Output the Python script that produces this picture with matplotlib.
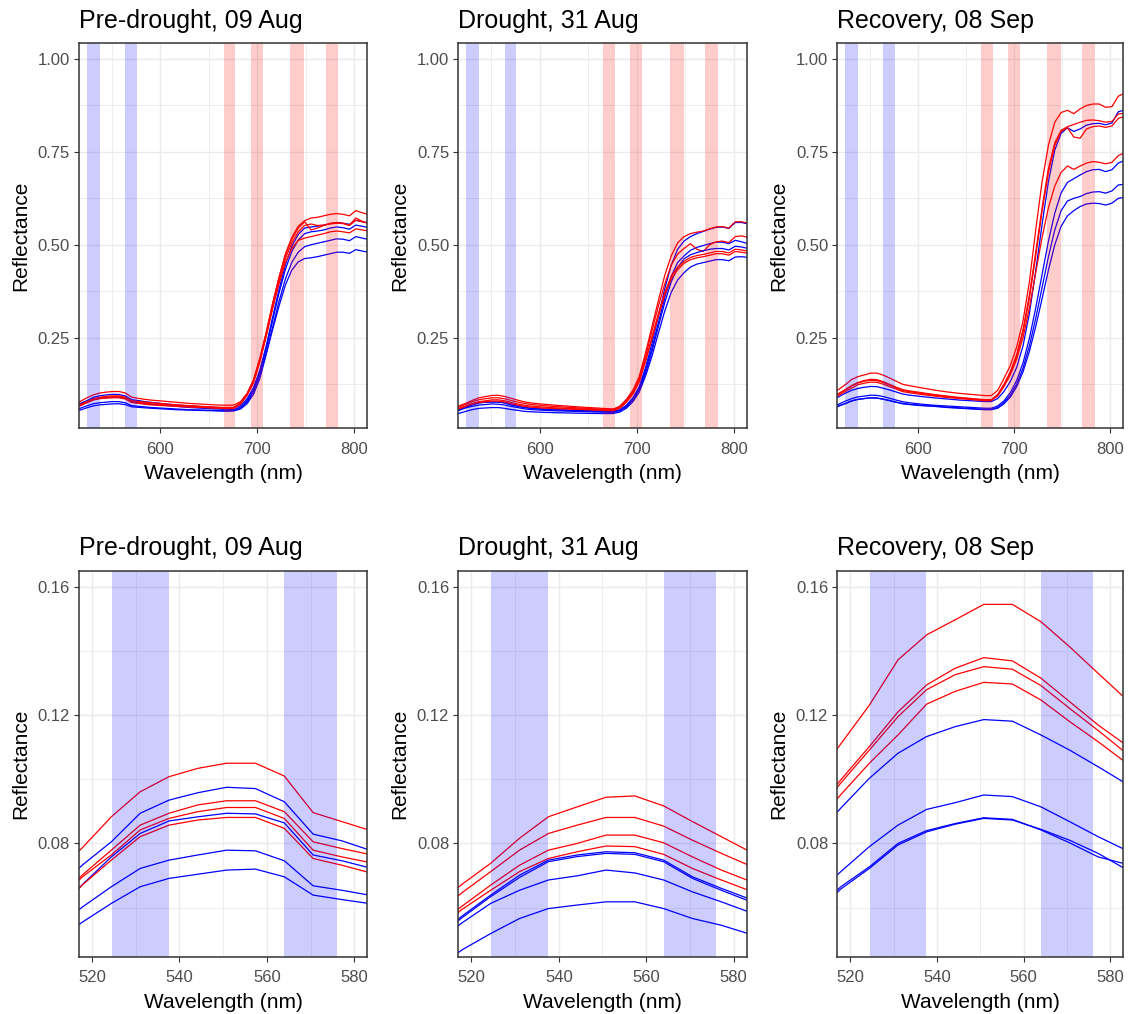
import matplotlib
matplotlib.use("Agg")
import matplotlib.pyplot as plt
from matplotlib.ticker import FixedLocator, FixedFormatter

plt.rcParams['font.family'] = ['Liberation Sans', 'DejaVu Sans']

# ---------------------------------------------------------------- data
wavelength = [511.2, 517.8, 524.4, 531.0, 537.6, 544.2, 550.8, 557.4, 564.0, 570.6,
              577.2, 583.8, 590.4, 603.6, 616.8, 630.0, 643.2, 656.4, 669.6, 676.2,
              682.8, 689.4, 696.0, 702.6, 709.2, 715.8, 722.4, 729.0, 735.6, 742.2,
              748.8, 755.4, 762.0, 768.6, 775.2, 781.8, 788.4, 795.0, 801.6, 808.2,
              814.8]

# Pre-drought, 09 Aug
pre_red = [
    [0.0700, 0.0787, 0.0883, 0.0961, 0.1008, 0.1034, 0.1050, 0.1050, 0.1010, 0.0896, 0.0868, 0.0840, 0.0820,
     0.079, 0.076, 0.073, 0.071, 0.069, 0.068,
     0.069, 0.078, 0.100, 0.136, 0.195, 0.265, 0.343, 0.413, 0.476, 0.520, 0.550, 0.565, 0.572, 0.574,
     0.578, 0.582, 0.584, 0.582, 0.578, 0.592, 0.586, 0.582],
    [0.0620, 0.0702, 0.0779, 0.0857, 0.0894, 0.0920, 0.0933, 0.0933, 0.0899, 0.0805, 0.0784, 0.0765, 0.0750,
     0.072, 0.069, 0.067, 0.065, 0.063, 0.062,
     0.063, 0.075, 0.098, 0.134, 0.192, 0.262, 0.340, 0.410, 0.472, 0.515, 0.545, 0.562, 0.540, 0.545,
     0.552, 0.558, 0.560, 0.558, 0.553, 0.572, 0.563, 0.558],
    [0.0610, 0.0696, 0.0764, 0.0842, 0.0878, 0.0899, 0.0912, 0.0912, 0.0878, 0.0779, 0.0758, 0.0740, 0.0720,
     0.070, 0.068, 0.066, 0.064, 0.062, 0.061,
     0.062, 0.073, 0.095, 0.130, 0.186, 0.254, 0.328, 0.395, 0.452, 0.490, 0.512, 0.518, 0.522, 0.526,
     0.530, 0.535, 0.537, 0.535, 0.532, 0.543, 0.540, 0.537],
    [0.0580, 0.0671, 0.0748, 0.0821, 0.0857, 0.0873, 0.0881, 0.0881, 0.0847, 0.0753, 0.0732, 0.0708, 0.0690,
     0.067, 0.065, 0.063, 0.062, 0.060, 0.059,
     0.060, 0.071, 0.094, 0.128, 0.185, 0.255, 0.332, 0.402, 0.463, 0.505, 0.535, 0.552, 0.556, 0.552,
     0.553, 0.556, 0.558, 0.557, 0.552, 0.566, 0.562, 0.558],
]
pre_blue = [
    [0.0650, 0.0733, 0.0805, 0.0894, 0.0935, 0.0958, 0.0975, 0.0971, 0.0930, 0.0829, 0.0808, 0.0778, 0.0760,
     0.072, 0.069, 0.066, 0.064, 0.062, 0.061,
     0.061, 0.067, 0.085, 0.115, 0.162, 0.228, 0.305, 0.380, 0.446, 0.496, 0.528, 0.545, 0.548, 0.550,
     0.553, 0.557, 0.560, 0.558, 0.555, 0.566, 0.562, 0.558],
    [0.0580, 0.0672, 0.0758, 0.0831, 0.0870, 0.0883, 0.0894, 0.0892, 0.0864, 0.0764, 0.0746, 0.0723, 0.0710,
     0.068, 0.065, 0.062, 0.060, 0.058, 0.057,
     0.057, 0.063, 0.080, 0.110, 0.156, 0.220, 0.296, 0.370, 0.434, 0.482, 0.513, 0.530, 0.535, 0.537,
     0.540, 0.545, 0.548, 0.546, 0.542, 0.553, 0.550, 0.546],
    [0.0530, 0.0602, 0.0665, 0.0722, 0.0748, 0.0764, 0.0779, 0.0777, 0.0746, 0.0668, 0.0654, 0.0638, 0.0620,
     0.060, 0.058, 0.056, 0.055, 0.054, 0.053,
     0.054, 0.060, 0.076, 0.104, 0.148, 0.208, 0.278, 0.348, 0.408, 0.453, 0.480, 0.495, 0.500, 0.504,
     0.508, 0.512, 0.516, 0.515, 0.511, 0.522, 0.518, 0.514],
    [0.0490, 0.0555, 0.0613, 0.0665, 0.0691, 0.0704, 0.0717, 0.0720, 0.0696, 0.0639, 0.0625, 0.0612, 0.0600,
     0.058, 0.056, 0.055, 0.054, 0.053, 0.052,
     0.053, 0.058, 0.072, 0.097, 0.140, 0.205, 0.272, 0.335, 0.392, 0.432, 0.454, 0.463, 0.465, 0.468,
     0.472, 0.476, 0.480, 0.480, 0.477, 0.487, 0.483, 0.480],
]

# Drought, 31 Aug
dro_red = [
    [0.0600, 0.0672, 0.0738, 0.0816, 0.0883, 0.0914, 0.0944, 0.0948, 0.0917, 0.0868, 0.0821, 0.0774, 0.0745,
     0.0710, 0.0680, 0.0655, 0.0630, 0.0610, 0.0590,
     0.058, 0.066, 0.084, 0.108, 0.145, 0.210, 0.280, 0.350, 0.418, 0.470, 0.505, 0.522, 0.530, 0.534,
     0.537, 0.543, 0.548, 0.549, 0.545, 0.562, 0.562, 0.558],
    [0.0570, 0.0646, 0.0712, 0.0779, 0.0831, 0.0857, 0.0881, 0.0881, 0.0854, 0.0810, 0.0769, 0.0730, 0.0705,
     0.0670, 0.0645, 0.0625, 0.0605, 0.0585, 0.0570,
     0.057, 0.064, 0.081, 0.104, 0.140, 0.200, 0.268, 0.335, 0.395, 0.445, 0.475, 0.490, 0.503, 0.488,
     0.482, 0.500, 0.508, 0.510, 0.506, 0.522, 0.524, 0.520],
    [0.0530, 0.0604, 0.0670, 0.0732, 0.0779, 0.0800, 0.0826, 0.0826, 0.0802, 0.0758, 0.0717, 0.0682, 0.0660,
     0.0630, 0.0610, 0.0595, 0.0580, 0.0565, 0.0550,
     0.055, 0.061, 0.077, 0.099, 0.133, 0.190, 0.252, 0.315, 0.372, 0.415, 0.440, 0.455, 0.466, 0.471,
     0.474, 0.478, 0.482, 0.482, 0.478, 0.488, 0.486, 0.483],
    [0.0520, 0.0594, 0.0654, 0.0712, 0.0753, 0.0774, 0.0792, 0.0790, 0.0766, 0.0722, 0.0686, 0.0652, 0.0630,
     0.0605, 0.0590, 0.0578, 0.0565, 0.0550, 0.0540,
     0.054, 0.060, 0.076, 0.098, 0.131, 0.186, 0.247, 0.308, 0.365, 0.408, 0.433, 0.450, 0.460, 0.465,
     0.468, 0.472, 0.476, 0.476, 0.472, 0.482, 0.480, 0.477],
]
dro_blue = [
    [0.0500, 0.0573, 0.0639, 0.0701, 0.0748, 0.0764, 0.0774, 0.0771, 0.0748, 0.0696, 0.0660, 0.0626, 0.0605,
     0.0580, 0.0563, 0.0550, 0.0540, 0.0530, 0.0520,
     0.052, 0.056, 0.068, 0.088, 0.118, 0.170, 0.235, 0.308, 0.382, 0.445, 0.488, 0.510, 0.522, 0.530,
     0.536, 0.542, 0.547, 0.548, 0.544, 0.560, 0.560, 0.556],
    [0.0495, 0.0568, 0.0634, 0.0694, 0.0743, 0.0759, 0.0769, 0.0766, 0.0743, 0.0691, 0.0654, 0.0619, 0.0598,
     0.0572, 0.0555, 0.0542, 0.0532, 0.0522, 0.0512,
     0.051, 0.055, 0.066, 0.085, 0.113, 0.162, 0.222, 0.290, 0.358, 0.415, 0.452, 0.470, 0.485, 0.493,
     0.498, 0.503, 0.507, 0.507, 0.503, 0.512, 0.508, 0.503],
    [0.0480, 0.0552, 0.0613, 0.0654, 0.0686, 0.0699, 0.0717, 0.0708, 0.0686, 0.0649, 0.0618, 0.0585, 0.0565,
     0.0545, 0.0530, 0.0520, 0.0510, 0.0500, 0.0490,
     0.049, 0.053, 0.063, 0.081, 0.108, 0.155, 0.213, 0.280, 0.345, 0.400, 0.438, 0.462, 0.473, 0.479,
     0.484, 0.488, 0.490, 0.490, 0.486, 0.496, 0.494, 0.490],
    [0.0400, 0.0468, 0.0519, 0.0566, 0.0597, 0.0608, 0.0618, 0.0618, 0.0597, 0.0566, 0.0545, 0.0517, 0.0505,
     0.0490, 0.0480, 0.0472, 0.0465, 0.0460, 0.0455,
     0.046, 0.050, 0.060, 0.077, 0.103, 0.147, 0.200, 0.262, 0.322, 0.372, 0.405, 0.425, 0.440, 0.448,
     0.452, 0.456, 0.460, 0.460, 0.457, 0.467, 0.468, 0.466],
]

# Recovery, 08 Sep
rec_red = [
    [0.0990, 0.1110, 0.1231, 0.1372, 0.1450, 0.1497, 0.1545, 0.1545, 0.1491, 0.1413, 0.1330, 0.1248, 0.1210,
     0.1150, 0.1090, 0.1040, 0.1000, 0.0970, 0.0940,
     0.094, 0.108, 0.140, 0.175, 0.225, 0.295, 0.400, 0.540, 0.670, 0.768, 0.830, 0.856, 0.862, 0.853,
     0.866, 0.875, 0.879, 0.879, 0.870, 0.872, 0.900, 0.908],
    [0.0890, 0.0998, 0.1102, 0.1210, 0.1294, 0.1346, 0.1379, 0.1369, 0.1315, 0.1242, 0.1169, 0.1105, 0.1070,
     0.1020, 0.0970, 0.0930, 0.0890, 0.0860, 0.0830,
     0.083, 0.097, 0.125, 0.158, 0.205, 0.272, 0.365, 0.480, 0.600, 0.705, 0.775, 0.808, 0.818, 0.824,
     0.830, 0.835, 0.836, 0.834, 0.830, 0.832, 0.852, 0.854],
    [0.0880, 0.0988, 0.1091, 0.1195, 0.1279, 0.1326, 0.1351, 0.1343, 0.1292, 0.1221, 0.1152, 0.1080, 0.1050,
     0.1000, 0.0950, 0.0910, 0.0880, 0.0850, 0.0820,
     0.082, 0.095, 0.122, 0.155, 0.200, 0.265, 0.355, 0.470, 0.590, 0.695, 0.768, 0.805, 0.815, 0.790,
     0.787, 0.812, 0.818, 0.820, 0.816, 0.820, 0.840, 0.846],
    [0.0850, 0.0952, 0.1050, 0.1138, 0.1234, 0.1274, 0.1302, 0.1297, 0.1247, 0.1180, 0.1117, 0.1050, 0.1020,
     0.0970, 0.0930, 0.0890, 0.0860, 0.0830, 0.0800,
     0.081, 0.093, 0.118, 0.150, 0.192, 0.250, 0.330, 0.425, 0.520, 0.600, 0.658, 0.695, 0.712, 0.703,
     0.712, 0.720, 0.724, 0.722, 0.718, 0.722, 0.740, 0.748],
]
rec_blue = [
    [0.0810, 0.0910, 0.1003, 0.1081, 0.1133, 0.1164, 0.1186, 0.1181, 0.1138, 0.1091, 0.1039, 0.0985, 0.0955,
     0.0915, 0.0880, 0.0850, 0.0820, 0.0800, 0.0780,
     0.078, 0.086, 0.105, 0.132, 0.170, 0.228, 0.315, 0.430, 0.555, 0.670, 0.755, 0.800, 0.815, 0.805,
     0.812, 0.822, 0.826, 0.827, 0.823, 0.828, 0.858, 0.863],
    [0.0630, 0.0712, 0.0790, 0.0857, 0.0906, 0.0927, 0.0951, 0.0946, 0.0914, 0.0868, 0.0821, 0.0778, 0.0750,
     0.0710, 0.0680, 0.0660, 0.0640, 0.0620, 0.0600,
     0.060, 0.066, 0.080, 0.102, 0.135, 0.182, 0.248, 0.330, 0.420, 0.510, 0.585, 0.640, 0.668, 0.678,
     0.688, 0.697, 0.702, 0.703, 0.697, 0.702, 0.720, 0.727],
    [0.0580, 0.0665, 0.0727, 0.0800, 0.0840, 0.0862, 0.0880, 0.0875, 0.0842, 0.0802, 0.0758, 0.0735, 0.0710,
     0.0680, 0.0660, 0.0630, 0.0610, 0.0590, 0.0570,
     0.057, 0.062, 0.075, 0.095, 0.125, 0.168, 0.228, 0.302, 0.385, 0.468, 0.540, 0.592, 0.618, 0.625,
     0.630, 0.638, 0.642, 0.643, 0.639, 0.645, 0.661, 0.663],
    [0.0570, 0.0658, 0.0722, 0.0795, 0.0836, 0.0860, 0.0878, 0.0873, 0.0844, 0.0810, 0.0769, 0.0718, 0.0700,
     0.0670, 0.0650, 0.0620, 0.0600, 0.0580, 0.0560,
     0.056, 0.060, 0.072, 0.090, 0.118, 0.158, 0.213, 0.280, 0.355, 0.432, 0.500, 0.550, 0.578, 0.592,
     0.603, 0.610, 0.612, 0.611, 0.607, 0.612, 0.625, 0.628],
]

titles = ["Pre-drought, 09 Aug", "Drought, 31 Aug", "Recovery, 08 Sep"]
red_sets = [pre_red, dro_red, rec_red]
blue_sets = [pre_blue, dro_blue, rec_blue]

# spectral bands used by the indices
blue_bands = [(524.5, 537.5), (564.0, 576.0)]
red_bands = [(665.5, 677.5), (693.5, 706.0), (734.0, 748.5), (770.5, 783.5)]

# axis settings for the full spectrum (top) and the green-peak zoom (bottom)
top_xlim, top_ylim = (516.2, 813.4), (0.006, 1.044)
top_xticks, top_xminor = [600, 700, 800], [550, 650, 750]
top_yticks, top_yminor = [0.25, 0.50, 0.75, 1.00], [0.125, 0.375, 0.625, 0.875]
top_ylabels = ["0.25", "0.50", "0.75", "1.00"]

bot_xlim, bot_ylim = (517.0, 583.0), (0.0447, 0.165)
bot_xticks, bot_xminor = [520, 540, 560, 580], [530, 550, 570]
bot_yticks, bot_yminor = [0.08, 0.12, 0.16], [0.06, 0.10, 0.14]
bot_ylabels = ["0.08", "0.12", "0.16"]

# ---------------------------------------------------------------- layout (pixels)
W, H = 1128, 1014
fig = plt.figure(figsize=(W / 100, H / 100), dpi=100)

cols = [(79.0, 367.3), (458.3, 746.7), (837.3, 1123.3)]
rows = [(42.7, 428.3), (570.7, 956.7)]
title_base = [28.0, 555.0]
xlab_base = [479.0, 1007.5]

RED, BLUE = "#FF0000", "#0000FF"
GRID = "#EBEBEB"
DARK = "#333333"


def fx(px):
    return px / W


def fy(py):
    return 1 - py / H


for r, (y0, y1) in enumerate(rows):
    for c, (x0, x1) in enumerate(cols):
        ax = fig.add_axes([fx(x0), fy(y1), (x1 - x0) / W, (y1 - y0) / H])
        ax.set_axisbelow(True)

        reds, blues = red_sets[c], blue_sets[c]
        for k in range(4):
            ax.plot(wavelength, blues[k], color=BLUE, lw=0.9, zorder=3)
            ax.plot(wavelength, reds[k], color=RED, lw=0.9, zorder=3)

        for a, b in blue_bands:
            ax.axvspan(a, b, color=BLUE, alpha=0.2, lw=0, zorder=4)
        if r == 0:
            for a, b in red_bands:
                ax.axvspan(a, b, color=RED, alpha=0.2, lw=0, zorder=4)

        if r == 0:
            ax.set_xlim(*top_xlim)
            ax.set_ylim(*top_ylim)
            xt, xm, yt, ym, yl = top_xticks, top_xminor, top_yticks, top_yminor, top_ylabels
        else:
            ax.set_xlim(*bot_xlim)
            ax.set_ylim(*bot_ylim)
            xt, xm, yt, ym, yl = bot_xticks, bot_xminor, bot_yticks, bot_yminor, bot_ylabels

        ax.xaxis.set_major_locator(FixedLocator(xt))
        ax.xaxis.set_major_formatter(FixedFormatter([str(v) for v in xt]))
        ax.xaxis.set_minor_locator(FixedLocator(xm))
        ax.yaxis.set_major_locator(FixedLocator(yt))
        ax.yaxis.set_major_formatter(FixedFormatter(yl))
        ax.yaxis.set_minor_locator(FixedLocator(ym))

        ax.grid(which="major", color=GRID, lw=1.0)
        ax.grid(which="minor", color=GRID, lw=0.6)

        ax.tick_params(which="major", length=3.6, width=0.8, color=DARK,
                       labelsize=12, labelcolor="#4D4D4D", pad=3.0)
        ax.tick_params(axis="x", which="major", pad=6.0)
        ax.tick_params(which="minor", length=0)
        for s in ax.spines.values():
            s.set_color(DARK)
            s.set_linewidth(1.1)
            s.set_zorder(5)

        fig.text(fx(x0), fy(title_base[r]), titles[c], fontsize=18,
                 ha="left", va="baseline", color="black")
        fig.text(fx((x0 + x1) / 2), fy(xlab_base[r]), "Wavelength (nm)",
                 fontsize=15, ha="center", va="baseline", color="black")
        fig.text(fx(x0 - 53.0), fy((y0 + y1) / 2), "Reflectance", fontsize=15,
                 rotation=90, rotation_mode="anchor", ha="center", va="baseline",
                 color="black")

fig.savefig("out.png", dpi=100, facecolor="white")
